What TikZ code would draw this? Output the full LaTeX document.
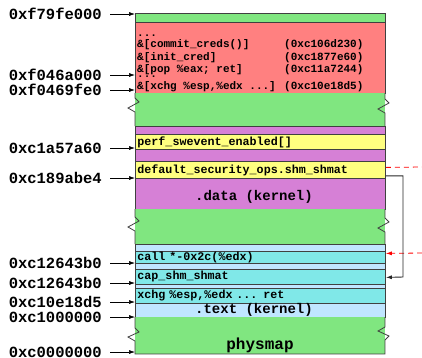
\documentclass[tikz,border=0pt]{standalone}
\usepackage{fontspec}
\setmonofont{Liberation Mono}
\usepackage{xcolor}
\usepackage{tikz}
\usetikzlibrary{arrows.meta}

\definecolor{mapgreen}{RGB}{128,230,128}
\definecolor{gadgetred}{RGB}{255,128,128}
\definecolor{datamagenta}{RGB}{214,128,214}
\definecolor{ptryellow}{RGB}{255,255,128}
\definecolor{codecyan}{RGB}{128,232,232}
\definecolor{textblue}{RGB}{192,230,255}

\begin{document}
\begin{tikzpicture}[x=1pt, y=-1pt,
    band/.style={draw=black!75, line width=0.8pt},
    slot/.style={band, anchor=north west, minimum width=250pt, text width=246pt,
        inner xsep=2pt, inner ysep=0pt, align=left,
        font=\ttfamily\bfseries\fontsize{11.7}{12}\selectfont},
    gadget/.style={anchor=base west, inner sep=0pt,
        font=\ttfamily\bfseries\fontsize{11}{11}\selectfont},
    region/.style={inner sep=0pt, font=\ttfamily\bfseries\fontsize{14}{14}\selectfont},
    addr/.style={anchor=east, inner sep=0pt,
        font=\ttfamily\bfseries\fontsize{15.5}{16}\selectfont},
    ptr/.style={-{Latex[length=6pt,width=4pt]}, line width=0.6pt},
    hijack/.style={red, dash pattern=on 5pt off 4pt, line width=0.8pt}]
    \useasboundingbox (0,0) rectangle (422,357);

    % Top of the physmap
    \draw[band, fill=mapgreen] (135,13) rectangle (385,22);

    % Fake ops table / ROP payload
    \draw[band, fill=gadgetred] (135,22) rectangle (385,93);
    \node[gadget] (dots1) at (137,36) {...};
    \node[gadget] (rop1) at (137,47) {\&[commit\_creds()]};
    \node[gadget] (rop2) at (137,60) {\&[init\_cred]};
    \node[gadget] (rop3) at (137,72.5) {\&[pop \%eax; ret]};
    \node[gadget] (dots2) at (137,77) {...};
    \node[gadget] (rop4) at (137,89.5) {\&[xchg \%esp,\%edx ...]};
    \node[gadget] (val1) at (284,47) {(0xc106d230)};
    \node[gadget] (val2) at (284,60) {(0xc1877e60)};
    \node[gadget] (val3) at (284,72.5) {(0xc11a7244)};
    \node[gadget] (val4) at (284,89.5) {(0xc10e18d5)};

    % Gap (torn)
    \fill[mapgreen] (135,93) rectangle (385,126);
    \draw[band] (135,93) -- (135,98) -- (139,102) -- (128,108) -- (135,112) -- (135,126);
    \draw[band] (385,93) -- (385,99) -- (389,103) -- (378,109) -- (385,113) -- (385,126);

    % .data
    \draw[band, fill=datamagenta] (135,126) rectangle (385,134);
    \node[slot, fill=ptryellow, minimum height=15pt] (perf) at (135,134) {perf\_swevent\_enabled[]};
    \draw[band, fill=datamagenta] (135,149) rectangle (385,161);
    \node[slot, fill=ptryellow, minimum height=17pt] (dso) at (135,161) {default\_security\_ops.shm\_shmat};
    \draw[band, fill=datamagenta] (135,178) rectangle (385,209);
    \node[region] (data) at (254,197) {.data (kernel)};

    % Gap (torn)
    \fill[mapgreen] (135,209) rectangle (385,244);
    \draw[band] (135,209) -- (135,217) -- (139,221) -- (128,227) -- (135,231) -- (135,244);
    \draw[band] (385,209) -- (385,218) -- (389,222) -- (378,228) -- (385,232) -- (385,244);

    % .text
    \draw[band, fill=textblue] (135,244) rectangle (385,251);
    \node[slot, fill=codecyan, minimum height=12pt] (call) at (135,251) {call *-0x2c(\%edx)};
    \draw[band, fill=textblue] (135,263) rectangle (385,269);
    \node[slot, fill=codecyan, minimum height=15pt] (cap) at (135,269) {cap\_shm\_shmat};
    \draw[band, fill=textblue] (135,284) rectangle (385,288);
    \node[slot, fill=codecyan, minimum height=15pt] (xchg) at (135,288) {xchg \%esp,\%edx ... ret};
    \draw[band, fill=textblue] (135,303) rectangle (385,317);
    \node[region] (text) at (254,310) {.text (kernel)};

    % Bottom of the physmap
    \fill[mapgreen] (135,317) rectangle (385,354);
    \draw[band] (135,317) -- (135,328) -- (139,332) -- (128,337) -- (135,341) -- (135,354)
        -- (385,354) -- (385,340) -- (389,336) -- (378,331) -- (385,327) -- (385,317);
    \node[font=\ttfamily\bfseries\fontsize{16}{16}\selectfont, inner sep=0pt] (physmap) at (260,345) {physmap};

    % Addresses
    \foreach \y/\a [count=\i] in {14/0xf79fe000, 75/0xf046a000, 90/0xf0469fe0,
        148/0xc1a57a60, 178/0xc189abe4, 263/0xc12643b0, 283/0xc12643b0,
        302/0xc10e18d5, 317/0xc1000000, 352/0xc0000000} {
        \node[addr] (addr\i) at (102,\y) {\a};
        \coordinate (pin\i) at (135,\y);
        \draw[ptr] ([xshift=8pt]addr\i.east) -- (pin\i);
    }

    % Control flow
    \coordinate (away) at (422,167);
    \coordinate (back) at (422,253);
    \coordinate (turn) at (403,277);
    \draw[hijack] ([yshift=2.5pt]dso.east) -- (away);
    \draw[hijack, -{Latex[length=6pt,width=4pt]}] (back) -- ([yshift=4pt]call.east);
    \draw[ptr, black!85, line width=0.9pt] ([yshift=-6pt]dso.east) -| (turn) -- ([yshift=-0.5pt]cap.east);
\end{tikzpicture}
\end{document}
